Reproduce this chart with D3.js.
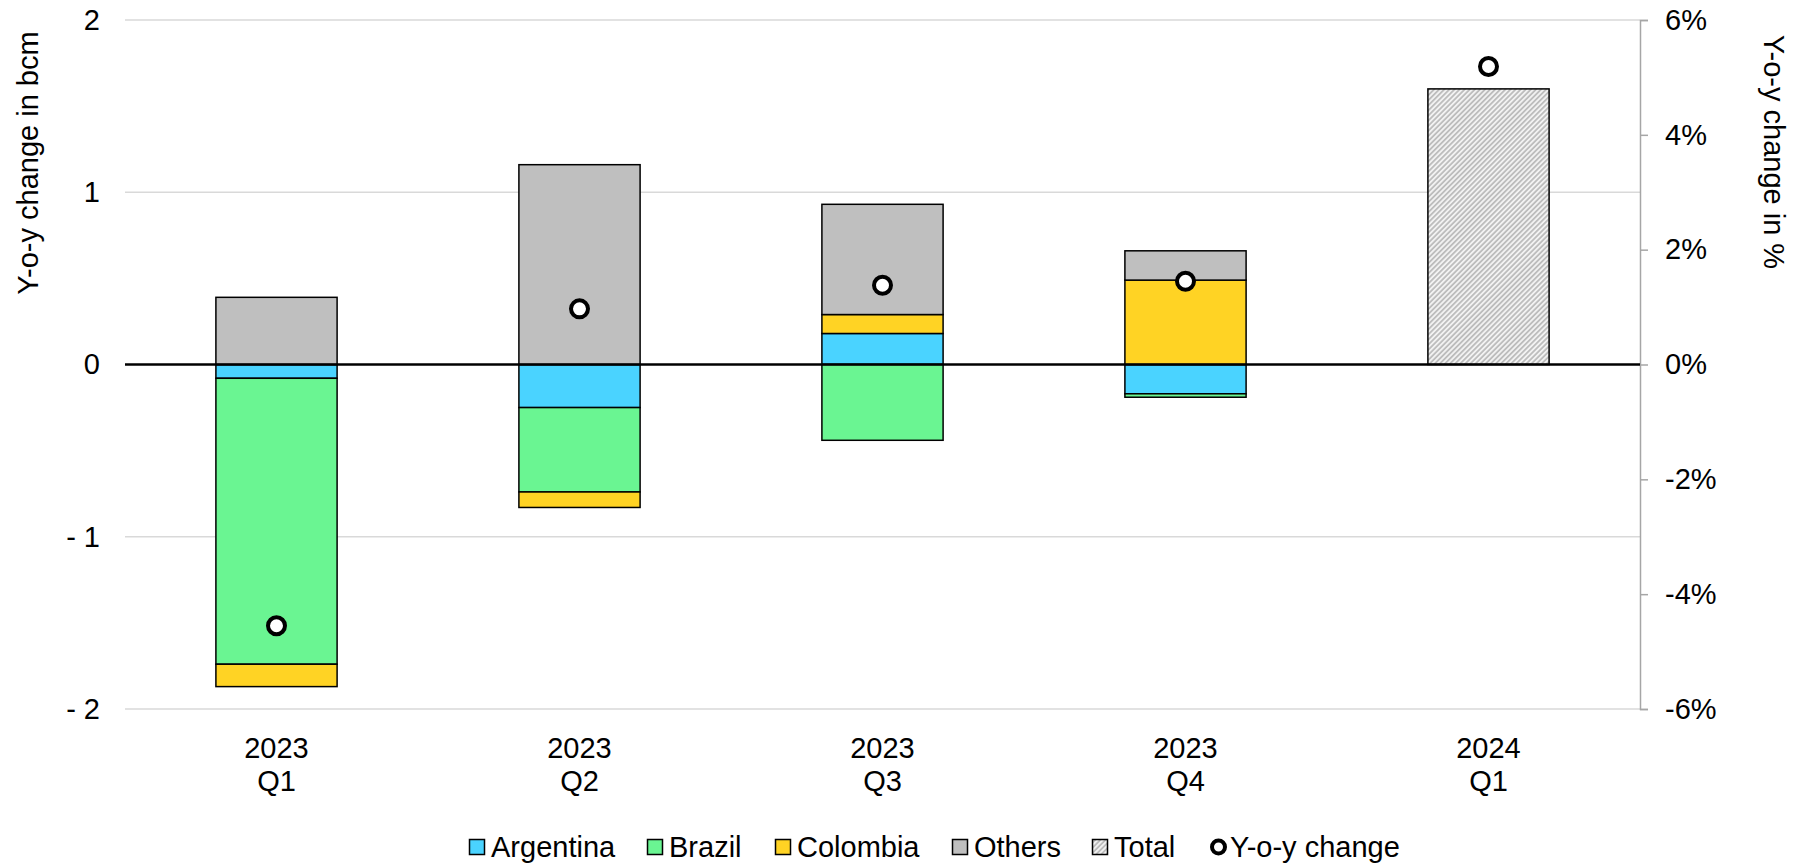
<!DOCTYPE html>
<html>
<head>
<meta charset="utf-8">
<script src="https://cdn.jsdelivr.net/npm/d3@7"></script>
<style>
    body { margin: 0; background: #fff; }
    svg text { font-family: "Liberation Sans", Arial, sans-serif; fill: #000; }
</style>
</head>
<body>
<div id="chart_area"></div>
<script>
// Values (bcm, y-o-y)
const quarters = ["2023 Q1", "2023 Q2", "2023 Q3", "2023 Q4", "2024 Q1"];
const argentina = [-0.08, -0.25, 0.18, -0.17, 0];
const brazil = [-1.66, -0.49, -0.44, -0.02, 0];
const colombia = [-0.13, -0.09, 0.11, 0.49, 0];
const others = [0.39, 1.16, 0.64, 0.17, 0];
const total = [null, null, null, null, 1.60];
const yoy_pct = [-4.55, 0.97, 1.38, 1.45, 5.19];

const left_ticks = [2, 1, 0, -1, -2];
const right_ticks = [6, 4, 2, 0, -2, -4, -6];

const series_keys = ["Argentina", "Brazil", "Colombia", "Others"];
const series_colours = {
    "Argentina": "#4ad3ff",
    "Brazil": "#6af592",
    "Colombia": "#ffd324",
    "Others": "#bfbfbf"
};

const WIDTH = 1795;
const HEIGHT = 863;
const PLOT_LEFT = 125;
const PLOT_RIGHT = 1640;
const PLOT_TOP = 20;
const PLOT_BOTTOM = 709;
const FONT_SIZE = 29;

let svg = d3.select("#chart_area")
    .append("svg")
    .attr("width", WIDTH)
    .attr("height", HEIGHT);

// hatch used for the Total bar
let defs = svg.append("defs");
let hatch = defs.append("pattern")
    .attr("id", "hatch")
    .attr("patternUnits", "userSpaceOnUse")
    .attr("width", 3.6)
    .attr("height", 3.6)
    .attr("patternTransform", "rotate(45)");
hatch.append("rect").attr("width", 3.6).attr("height", 3.6).attr("fill", "#f2f2f2");
hatch.append("rect").attr("width", 1.8).attr("height", 3.6).attr("fill", "#bdbdbd");

let x = d3.scaleBand()
    .domain(quarters)
    .range([PLOT_LEFT, PLOT_RIGHT])
    .paddingInner(0.6)
    .paddingOuter(0.3);

let y = d3.scaleLinear().domain([-2, 2]).range([PLOT_BOTTOM, PLOT_TOP]);
let y_pct = d3.scaleLinear().domain([-6, 6]).range([PLOT_BOTTOM, PLOT_TOP]);

// gridlines
svg.append("g")
    .selectAll("line")
    .data(left_ticks.filter(d => d !== 0))
    .enter().append("line")
    .attr("x1", PLOT_LEFT)
    .attr("x2", PLOT_RIGHT)
    .attr("y1", d => y(d))
    .attr("y2", d => y(d))
    .attr("stroke", "#d9d9d9")
    .attr("stroke-width", 1.5);

// left axis labels
let left_axis = d3.axisLeft(y)
    .tickValues(left_ticks)
    .tickSize(0)
    .tickPadding(25)
    .tickFormat(d => d < 0 ? "- " + Math.abs(d) : String(d));

svg.append("g")
    .attr("transform", "translate(" + PLOT_LEFT + ",0)")
    .call(left_axis)
    .call(g => g.select(".domain").remove())
    .selectAll("text")
    .attr("font-size", FONT_SIZE);

// right axis, gray line with outside ticks
let right_axis = d3.axisRight(y_pct)
    .tickValues(right_ticks)
    .tickSize(8)
    .tickPadding(17)
    .tickFormat(d => d + "%");

svg.append("g")
    .attr("transform", "translate(" + PLOT_RIGHT + ",0)")
    .call(right_axis)
    .call(g => g.select(".domain").attr("stroke", "#a6a6a6").attr("stroke-width", 1.5))
    .call(g => g.selectAll(".tick line").attr("stroke", "#a6a6a6").attr("stroke-width", 1.5))
    .selectAll("text")
    .attr("font-size", FONT_SIZE);

// stacked bars
let table = quarters.map(function (q, i) {
    return {
        quarter: q,
        "Argentina": argentina[i],
        "Brazil": brazil[i],
        "Colombia": colombia[i],
        "Others": others[i]
    };
});

let stack = d3.stack()
    .keys(series_keys)
    .offset(d3.stackOffsetDiverging);

let layers = stack(table);

svg.append("g")
    .selectAll("g")
    .data(layers)
    .enter().append("g")
    .attr("fill", d => series_colours[d.key])
    .selectAll("rect")
    .data(d => d.filter(p => p[1] !== p[0]))
    .enter().append("rect")
    .attr("x", d => x(d.data.quarter))
    .attr("width", x.bandwidth())
    .attr("y", d => y(Math.max(d[0], d[1])))
    .attr("height", d => Math.abs(y(d[0]) - y(d[1])))
    .attr("stroke", "#000")
    .attr("stroke-width", 1.5);

// total bar
svg.append("g")
    .selectAll("rect")
    .data(quarters.map((q, i) => ({quarter: q, value: total[i]})).filter(d => d.value !== null))
    .enter().append("rect")
    .attr("x", d => x(d.quarter))
    .attr("width", x.bandwidth())
    .attr("y", d => y(d.value))
    .attr("height", d => y(0) - y(d.value))
    .attr("fill", "url(#hatch)")
    .attr("stroke", "#000")
    .attr("stroke-width", 1.5);

// zero line on top of the bars
svg.append("line")
    .attr("x1", PLOT_LEFT)
    .attr("x2", PLOT_RIGHT)
    .attr("y1", y(0))
    .attr("y2", y(0))
    .attr("stroke", "#000")
    .attr("stroke-width", 2.5);

// y-o-y markers
svg.append("g")
    .selectAll("circle")
    .data(quarters.map((q, i) => ({quarter: q, value: yoy_pct[i]})))
    .enter().append("circle")
    .attr("cx", d => x(d.quarter) + x.bandwidth() / 2)
    .attr("cy", d => y_pct(d.value))
    .attr("r", 8.5)
    .attr("fill", "#fff")
    .attr("stroke", "#000")
    .attr("stroke-width", 4);

// category labels, two lines
let cat_labels = svg.append("g")
    .selectAll("text")
    .data(quarters)
    .enter().append("text")
    .attr("text-anchor", "middle")
    .attr("font-size", FONT_SIZE)
    .attr("x", d => x(d) + x.bandwidth() / 2)
    .attr("y", 758);
cat_labels.append("tspan").text(d => d.split(" ")[0]);
cat_labels.append("tspan")
    .attr("x", d => x(d) + x.bandwidth() / 2)
    .attr("dy", 33)
    .text(d => d.split(" ")[1]);

// axis titles
svg.append("text")
    .attr("transform", "translate(38,163) rotate(-90)")
    .attr("text-anchor", "middle")
    .attr("font-size", FONT_SIZE)
    .text("Y-o-y change in bcm");

svg.append("text")
    .attr("transform", "translate(1764,152) rotate(90)")
    .attr("text-anchor", "middle")
    .attr("font-size", FONT_SIZE)
    .text("Y-o-y change in %");

// legend
const legend_items = [
    {label: "Argentina", type: "box", fill: series_colours["Argentina"], x: 469},
    {label: "Brazil", type: "box", fill: series_colours["Brazil"], x: 647},
    {label: "Colombia", type: "box", fill: series_colours["Colombia"], x: 775},
    {label: "Others", type: "box", fill: series_colours["Others"], x: 952},
    {label: "Total", type: "box", fill: "url(#hatch)", x: 1092},
    {label: "Y-o-y change", type: "dot", x: 1210}
];
const LEGEND_Y = 847;

let legend = svg.append("g")
    .selectAll("g")
    .data(legend_items)
    .enter().append("g")
    .attr("transform", d => "translate(" + d.x + "," + LEGEND_Y + ")");

legend.filter(d => d.type === "box")
    .append("rect")
    .attr("x", 0.5)
    .attr("y", -7.5)
    .attr("width", 15)
    .attr("height", 15)
    .attr("fill", d => d.fill)
    .attr("stroke", "#000")
    .attr("stroke-width", 1.5);

legend.filter(d => d.type === "dot")
    .append("circle")
    .attr("cx", 8.5)
    .attr("cy", 0)
    .attr("r", 6.5)
    .attr("fill", "#fff")
    .attr("stroke", "#000")
    .attr("stroke-width", 4);

legend.append("text")
    .attr("x", d => d.type === "dot" ? 20 : 22)
    .attr("y", 0)
    .attr("dy", "0.36em")
    .attr("font-size", FONT_SIZE)
    .text(d => d.label);
</script>
</body>
</html>
